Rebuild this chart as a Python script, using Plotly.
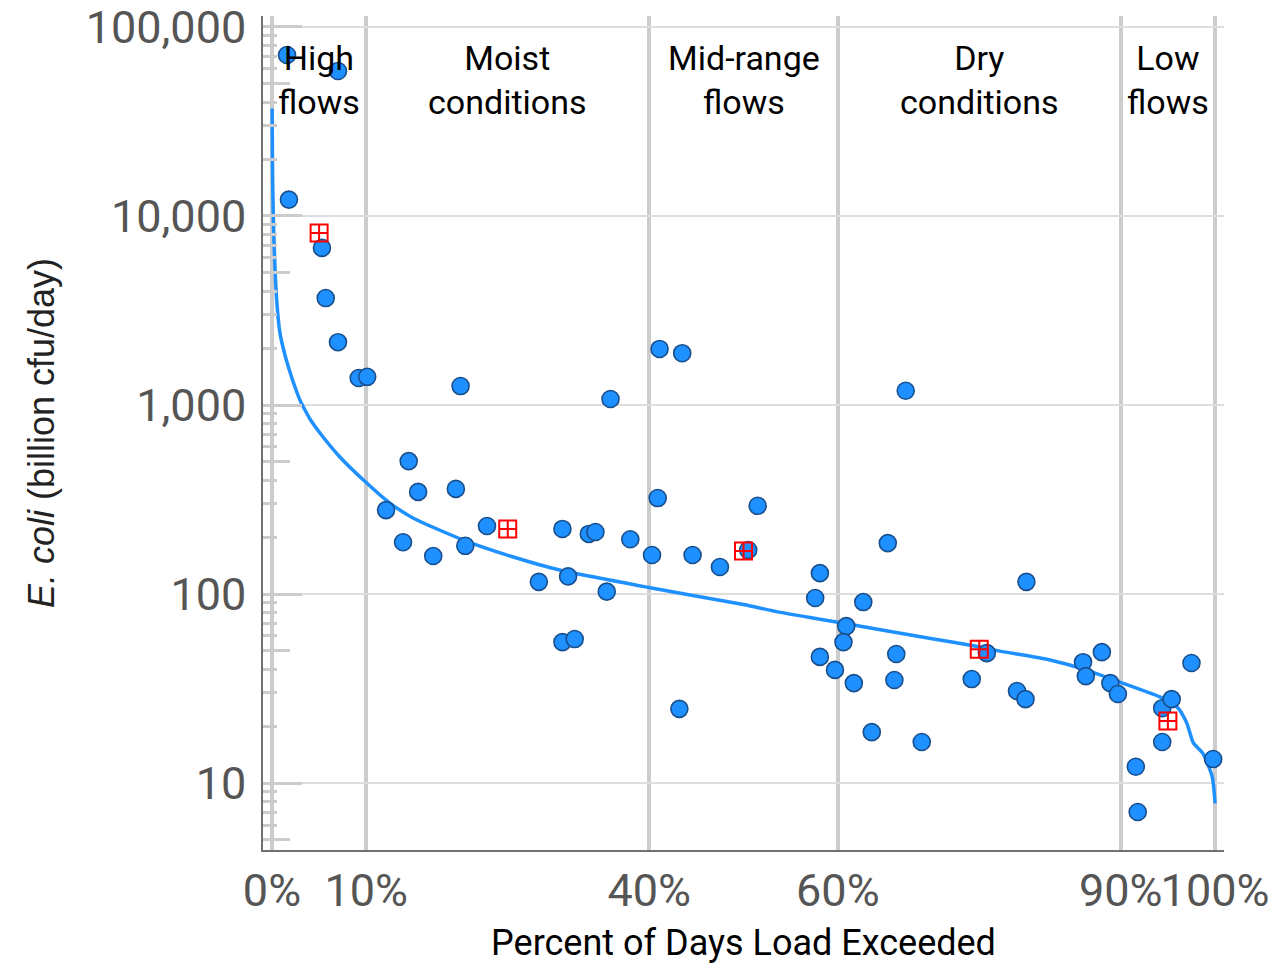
import plotly.graph_objects as go

# ---- data ----
curve_pct = [0.02, 0.05, 0.14, 0.5, 0.85, 1.38, 1.91, 2.44, 2.97, 3.5, 4.03, 5.09, 7.2, 9.7,
             12.5, 15.0, 20.3, 25.6, 30.5, 40.1, 50.0, 53.9, 60.0, 70.0, 75.1, 77.2, 82.5,
             86.4, 89.9, 94.2, 96.0, 97.0, 97.7, 98.7, 99.7, 100.0]
curve_load = [37000, 20000, 10000, 3600, 2400, 1840, 1496, 1245, 1062, 941, 843, 711, 531, 401,
              303, 252, 193, 157, 134, 108, 88, 80, 71, 58, 52.5, 49.9, 44.8,
              39.6, 34.2, 28.5, 25.2, 20.8, 16.3, 14.4, 10.8, 7.8]

obs_pct = [1.6, 7.0, 1.8, 5.3, 5.7, 7.0, 9.2, 10.1, 20.0, 14.5, 15.5, 19.5, 12.1, 22.8, 13.9,
           17.1, 20.5, 28.3, 30.8, 31.4, 33.6, 34.3, 35.9, 35.5, 38.0, 30.8, 32.1, 41.1, 43.5,
           40.9, 40.3, 44.6, 47.5, 50.5, 51.5, 43.2, 58.1, 57.6, 62.7, 65.3, 67.2, 80.0, 60.9,
           60.6, 58.1, 59.7, 61.7, 66.2, 66.0, 63.6, 68.9, 75.8, 74.2, 79.0, 79.9, 86.0, 86.3,
           88.0, 88.9, 89.7, 91.6, 91.8, 94.4, 95.4, 94.4, 97.5, 99.8]
obs_load = [71100, 58500, 12200, 6780, 3680, 2150, 1390, 1410, 1260, 505, 347, 360, 278, 229, 188,
            159, 180, 116, 221, 124, 208, 213, 1076, 103, 195, 55.7, 57.8, 1980, 1880,
            322, 161, 161, 139, 171, 293, 24.7, 129, 95.3, 90.7, 186, 1190, 116, 67.7,
            55.7, 46.5, 39.7, 33.8, 48.2, 35.1, 18.6, 16.5, 48.7, 35.5, 30.7, 27.8, 43.6, 36.8,
            49.3, 33.8, 29.6, 12.2, 7.03, 24.9, 27.8, 16.5, 43.2, 13.4]

geo_pct = [5.0, 25.0, 50.0, 75.0, 95.0]
geo_load = [8130, 221, 169, 51, 21.3]

zone_mid = [5, 25, 50, 75, 95]
zone_labels = ["High<br>flows", "Moist<br>conditions", "Mid-range<br>flows",
               "Dry<br>conditions", "Low<br>flows"]

x_ticks = [0, 10, 40, 60, 90, 100]
x_ticktext = ["0%", "10%", "40%", "60%", "90%", "100%"]
y_ticks = [10, 100, 1000, 10000, 100000]
y_ticktext = ["10", "100", "1,000", "10,000", "100,000"]
y_mid_ticks = [5, 50, 500, 5000, 50000]
y_minor_ticks = [m * 10 ** k for k in range(0, 5) for m in (2, 3, 4, 6, 7, 8, 9)]

BLUE = "#1E90FF"
GRID = "#cccccc"

fig = go.Figure()
fig.add_trace(go.Scatter(x=curve_pct, y=curve_load, mode="lines",
                         line=dict(color=BLUE, width=3.5, shape="spline", smoothing=0.6),
                         showlegend=False))
fig.add_trace(go.Scatter(x=obs_pct, y=obs_load, mode="markers",
                         marker=dict(size=17, color=BLUE, line=dict(color="#184f8c", width=1.6)),
                         showlegend=False))
fig.add_trace(go.Scatter(x=geo_pct, y=geo_load, mode="markers",
                         marker=dict(size=17, symbol="square-cross-open", color="red",
                                     line=dict(color="red", width=2)),
                         showlegend=False))
fig.add_trace(go.Scatter(x=[], y=[], yaxis="y2", showlegend=False))

for xm, lab in zip(zone_mid, zone_labels):
    fig.add_annotation(x=xm, y=0.923, xref="x", yref="paper", text=lab, showarrow=False,
                       font=dict(family="Roboto", size=34, color="black"),
                       xanchor="center", yanchor="middle")

yr = [0.646, 5.058]
fig.update_layout(
    width=1281, height=966,
    margin=dict(l=263, r=57, t=16, b=116),
    plot_bgcolor="white", paper_bgcolor="white",
    font=dict(family="Roboto"),
    xaxis=dict(range=[-0.95, 100.95], tickvals=x_ticks, ticktext=x_ticktext,
               tickangle=0, automargin=False,
               showgrid=True, gridcolor=GRID, gridwidth=3.5, zeroline=False,
               showline=True, linecolor="#707070", linewidth=1.5, ticks="",
               tickfont=dict(family="Roboto", size=45, color="#555555"),
               title=dict(text="Percent of Days Load Exceeded",
                          font=dict(family="Roboto", size=36, color="black"), standoff=14)),
    yaxis=dict(type="log", range=yr, tickvals=y_ticks, ticktext=y_ticktext,
               automargin=False,
               showgrid=True, gridcolor="#dddddd", gridwidth=1.5, zeroline=False,
               showline=True, linecolor="#707070", linewidth=1.5,
               ticks="inside", ticklen=39, tickwidth=3, tickcolor=GRID,
               ticklabelstandoff=6,
               tickfont=dict(family="Roboto", size=45, color="#555555"),
               minor=dict(tickvals=y_minor_ticks, ticks="inside", ticklen=14, tickwidth=3,
                          tickcolor=GRID, showgrid=False),
               title=dict(text="<i>E. coli</i> (billion cfu/day)",
                          font=dict(family="Liberation Sans", size=36, color="#222222"),
                          standoff=20)),
    yaxis2=dict(type="log", range=yr, overlaying="y", side="left", tickvals=y_mid_ticks,
                showgrid=False, showline=False, zeroline=False, showticklabels=False,
                ticks="inside", ticklen=27, tickwidth=3, tickcolor=GRID),
)

fig.write_html("out.html")
